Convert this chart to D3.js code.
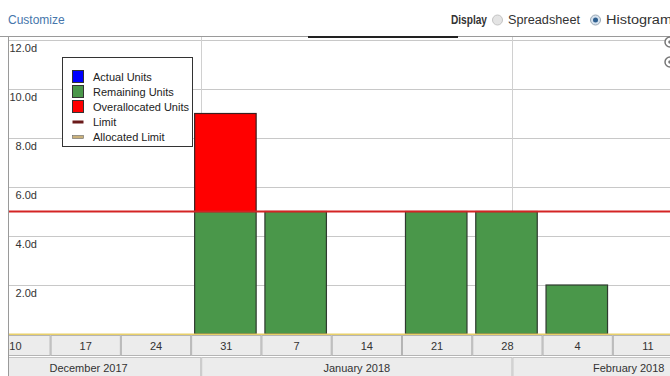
<!DOCTYPE html>
<html>
<head>
<meta charset="utf-8">
<script src="https://cdn.jsdelivr.net/npm/d3@7"></script>
<style>
  body { margin: 0; background: #fff; }
  svg { display: block; font-family: "Liberation Sans", Arial, sans-serif; }
</style>
</head>
<body>
<svg width="670" height="376"></svg>
<script>
// week starts (Sundays) shown on the lower axis
const weeks = ["2017-12-10", "2017-12-17", "2017-12-24", "2017-12-31", "2018-01-07",
               "2018-01-14", "2018-01-21", "2018-01-28", "2018-02-04", "2018-02-11"];
const actualUnits = [0, 0, 0, 0, 0, 0, 0, 0, 0, 0];
const remainingUnits = [0, 0, 0, 5, 5, 0, 5, 5, 2, 0];
const overUnits = [0, 0, 0, 4, 0, 0, 0, 0, 0, 0];
const limitValue = 5;
const allocatedLimit = 0;
const yTicks = [2, 4, 6, 8, 10, 12];
const months = [
  {label: "December 2017", start: "2017-12-01", end: "2018-01-01"},
  {label: "January 2018", start: "2018-01-01", end: "2018-02-01"},
  {label: "February 2018", start: "2018-02-01", end: "2018-03-01"}
];
const legendItems = [
  {name: "Actual Units", kind: "box", color: "#0000ff"},
  {name: "Remaining Units", kind: "box", color: "#4a974a"},
  {name: "Overallocated Units", kind: "box", color: "#ff0000"},
  {name: "Limit", kind: "line", color: "#6a1a1a"},
  {name: "Allocated Limit", kind: "line", color: "#c9b07a"}
];

const svg = d3.select("svg");
const parse = d3.timeParse("%Y-%m-%d");

const plotLeft = 9, plotTop = 37, plotBottom = 334, plotRight = 670;

var x = d3.scaleTime()
    .domain([parse("2017-12-10"), parse("2018-02-18")])
    .range([-19.7, 683.1]);
var y = d3.scaleLinear().domain([0, 12]).range([334, 40]);

// header
svg.append("text").attr("x", 8).attr("y", 24).attr("font-size", 12)
    .attr("fill", "#4676ab").text("Customize");
svg.append("text").attr("x", 451).attr("y", 24).attr("font-size", 12)
    .attr("font-weight", "bold").attr("fill", "#333")
    .attr("textLength", 36).attr("lengthAdjust", "spacingAndGlyphs").text("Display");
svg.append("circle").attr("cx", 497.5).attr("cy", 20).attr("r", 5)
    .attr("fill", "#e4e4e4").attr("stroke", "#c4c4c4");
svg.append("text").attr("x", 508).attr("y", 24).attr("font-size", 12)
    .attr("fill", "#333").attr("textLength", 72).attr("lengthAdjust", "spacingAndGlyphs")
    .text("Spreadsheet");
svg.append("circle").attr("cx", 595.5).attr("cy", 20).attr("r", 5)
    .attr("fill", "#d6e2ee").attr("stroke", "#9aa8b4");
svg.append("circle").attr("cx", 595.5).attr("cy", 20).attr("r", 2.5)
    .attr("fill", "#2e5f8f");
svg.append("text").attr("x", 606).attr("y", 24).attr("font-size", 12)
    .attr("fill", "#333").attr("textLength", 66).attr("lengthAdjust", "spacingAndGlyphs")
    .text("Histogram");

svg.append("defs").append("clipPath").attr("id", "clip")
    .append("rect").attr("x", plotLeft).attr("y", plotTop)
    .attr("width", plotRight - plotLeft).attr("height", 376 - plotTop);

const body = svg.append("g").attr("clip-path", "url(#clip)");

// horizontal grid
body.append("g").selectAll("line").data(yTicks).enter().append("line")
    .attr("x1", plotLeft).attr("x2", plotRight)
    .attr("y1", d => y(d) + 0.5).attr("y2", d => y(d) + 0.5)
    .attr("stroke", "#c8c8c8");

// month gridlines
body.append("g").selectAll("line").data(months.slice(1)).enter().append("line")
    .attr("x1", d => Math.round(x(parse(d.start))) + 0.5)
    .attr("x2", d => Math.round(x(parse(d.start))) + 0.5)
    .attr("y1", plotTop).attr("y2", plotBottom)
    .attr("stroke", "#d0d0d0");

// y labels
body.append("g").selectAll("text").data(yTicks).enter().append("text")
    .attr("x", 37).attr("y", d => y(d) + 12)
    .attr("text-anchor", "end").attr("font-size", 11).attr("fill", "#333")
    .text(d => d.toFixed(1) + "d");

const rows = weeks.map((w, i) => ({
  date: parse(w), actual: actualUnits[i], rem: remainingUnits[i], over: overUnits[i]
}));

const bx = d => x(d.date) + 3.5;
const bw = 61.5;

// remaining units
body.append("g").selectAll("rect").data(rows.filter(d => d.rem > 0)).enter().append("rect")
    .attr("x", bx).attr("width", bw)
    .attr("y", d => y(d.actual + d.rem)).attr("height", d => y(d.actual) - y(d.actual + d.rem))
    .attr("fill", "#4a974a").attr("stroke", "#2f3a2f").attr("stroke-width", 1.2);

// overallocated units
body.append("g").selectAll("rect").data(rows.filter(d => d.over > 0)).enter().append("rect")
    .attr("x", bx).attr("width", bw)
    .attr("y", d => y(d.actual + d.rem + d.over))
    .attr("height", d => y(d.actual + d.rem) - y(d.actual + d.rem + d.over))
    .attr("fill", "#ff0000").attr("stroke", "#3a2020").attr("stroke-width", 1.2);

// limit line
body.append("line").attr("x1", plotLeft).attr("x2", plotRight)
    .attr("y1", y(limitValue)).attr("y2", y(limitValue))
    .attr("stroke", "#d42424").attr("stroke-width", 2);

// allocated limit
body.append("line").attr("x1", plotLeft).attr("x2", plotRight)
    .attr("y1", y(allocatedLimit) + 0.5).attr("y2", y(allocatedLimit) + 0.5)
    .attr("stroke", "#e8cf6a").attr("stroke-width", 2);

// week row
const weekRow = body.append("g");
weekRow.append("rect").attr("x", plotLeft).attr("y", 335)
    .attr("width", plotRight - plotLeft).attr("height", 21)
    .attr("fill", "#ececec");
weekRow.selectAll("rect.cell").data(rows).enter().append("rect").attr("class", "cell")
    .attr("x", d => x(d.date) + 0.5).attr("y", 335.5)
    .attr("width", d => x(d3.timeDay.offset(d.date, 7)) - x(d.date) - 1).attr("height", 20)
    .attr("fill", "#ececec").attr("stroke", "#b4b4b4");
weekRow.selectAll("text").data(rows).enter().append("text")
    .attr("x", d => (x(d.date) + x(d3.timeDay.offset(d.date, 7))) / 2)
    .attr("y", 350).attr("text-anchor", "middle").attr("font-size", 11).attr("fill", "#333")
    .text(d => d3.timeFormat("%-d")(d.date));

// month row
const monthRow = body.append("g");
monthRow.selectAll("rect").data(months).enter().append("rect")
    .attr("x", d => x(parse(d.start)) + 0.5).attr("y", 357.5)
    .attr("width", d => x(parse(d.end)) - x(parse(d.start)) - 1).attr("height", 22)
    .attr("fill", "#ececec").attr("stroke", "#c4c4c4");
monthRow.selectAll("text").data(months).enter().append("text")
    .attr("x", d => (Math.max(x(parse(d.start)), -24) + Math.min(x(parse(d.end)), 745)) / 2)
    .attr("y", 372).attr("text-anchor", "middle").attr("font-size", 11).attr("fill", "#333")
    .text(d => d.label);

// frame
svg.append("line").attr("x1", 0).attr("x2", plotRight).attr("y1", 36.5).attr("y2", 36.5)
    .attr("stroke", "#9a9a9a");
svg.append("line").attr("x1", 308).attr("x2", 458).attr("y1", 37).attr("y2", 37)
    .attr("stroke", "#222").attr("stroke-width", 2);
svg.append("line").attr("x1", plotLeft - 0.5).attr("x2", plotLeft - 0.5)
    .attr("y1", plotTop).attr("y2", 376)
    .attr("stroke", "#9a9a9a");

// right edge icons
[42, 62].forEach(cy => {
  svg.append("circle").attr("cx", 670).attr("cy", cy).attr("r", 5)
     .attr("fill", "#fff").attr("stroke", "#777").attr("stroke-width", 1.5);
  svg.append("circle").attr("cx", 670).attr("cy", cy).attr("r", 1.8).attr("fill", "#777");
});

// legend
const legend = svg.append("g");
legend.append("rect").attr("x", 62.5).attr("y", 57.5).attr("width", 130).attr("height", 89)
    .attr("fill", "#fff").attr("stroke", "#333");
const item = legend.selectAll("g").data(legendItems).enter().append("g")
    .attr("transform", (d, i) => `translate(0,${77 + i * 15})`);
item.filter(d => d.kind === "box").append("rect")
    .attr("x", 72.5).attr("y", -6.5).attr("width", 11).attr("height", 12)
    .attr("fill", d => d.color).attr("stroke", "#333");
item.filter(d => d.kind === "line").append("rect")
    .attr("x", 72.5).attr("y", -1.5).attr("width", 11).attr("height", 3)
    .attr("fill", d => d.color).attr("stroke", d => d.name === "Limit" ? "none" : "#666")
    .attr("stroke-width", 0.6);
item.append("text").attr("x", 93).attr("y", 4).attr("font-size", 11).attr("fill", "#222")
    .text(d => d.name);
</script>
</body>
</html>
